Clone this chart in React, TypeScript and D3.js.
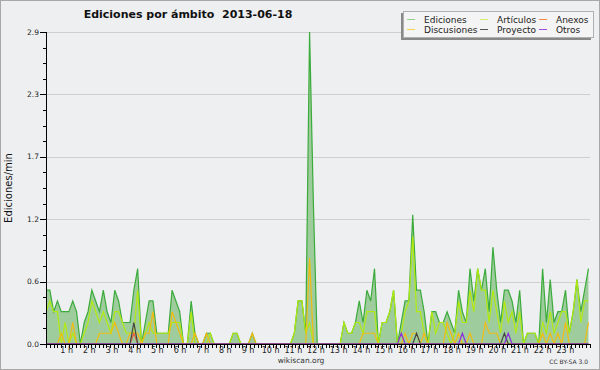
import React, { useEffect, useRef } from 'react';
import * as d3 from 'd3';

// edits per minute, one value per 10 minutes (00:00 .. 23:40)
const ediciones = [
  0.5, 0.5, 0.3, 0.4, 0.3, 0.3, 0.3, 0.4, 0.3, 0.0,
  0.2, 0.3, 0.5, 0.4, 0.3, 0.5, 0.3, 0.2, 0.5, 0.4,
  0.2, 0.2, 0.2, 0.5, 0.7, 0.0, 0.2, 0.4, 0.4, 0.1,
  0.1, 0.1, 0.1, 0.5, 0.4, 0.3, 0.0, 0.0, 0.4, 0.1,
  0.0, 0.0, 0.1, 0.1, 0.0, 0.0, 0.0, 0.0, 0.0, 0.1,
  0.1, 0.0, 0.0, 0.0, 0.1, 0.0, 0.0, 0.0, 0.0, 0.0,
  0.0, 0.0, 0.0, 0.0, 0.0, 0.1, 0.4, 0.4, 0.1, 2.9,
  1.3, 0.0, 0.0, 0.0, 0.0, 0.0, 0.0, 0.0, 0.2, 0.1,
  0.1, 0.2, 0.4, 0.2, 0.5, 0.4, 0.7, 0.0, 0.2, 0.2,
  0.3, 0.5, 0.0, 0.2, 0.4, 0.4, 1.2, 0.5, 0.5, 0.3,
  0.0, 0.3, 0.3, 0.2, 0.2, 0.3, 0.2, 0.1, 0.5, 0.3,
  0.2, 0.7, 0.4, 0.7, 0.5, 0.7, 0.3, 0.9, 0.5, 0.2,
  0.5, 0.5, 0.4, 0.2, 0.5, 0.0, 0.1, 0.1, 0.1, 0.0,
  0.7, 0.2, 0.6, 0.2, 0.3, 0.3, 0.5, 0.1, 0.3, 0.6,
  0.3, 0.5, 0.7,
];

const articulos = [
  0.3, 0.4, 0.3, 0.3, 0.0, 0.2, 0.0, 0.1, 0.0, 0.0,
  0.1, 0.2, 0.4, 0.3, 0.2, 0.3, 0.2, 0.1, 0.3, 0.3,
  0.2, 0.1, 0.1, 0.1, 0.5, 0.0, 0.1, 0.2, 0.1, 0.1,
  0.1, 0.1, 0.1, 0.2, 0.2, 0.2, 0.0, 0.0, 0.3, 0.0,
  0.0, 0.0, 0.0, 0.1, 0.0, 0.0, 0.0, 0.0, 0.0, 0.1,
  0.1, 0.0, 0.0, 0.0, 0.0, 0.0, 0.0, 0.0, 0.0, 0.0,
  0.0, 0.0, 0.0, 0.0, 0.0, 0.1, 0.4, 0.4, 0.1, 0.2,
  0.0, 0.0, 0.0, 0.0, 0.0, 0.0, 0.0, 0.0, 0.2, 0.1,
  0.1, 0.2, 0.2, 0.1, 0.3, 0.3, 0.3, 0.0, 0.2, 0.2,
  0.3, 0.5, 0.0, 0.1, 0.3, 0.4, 1.0, 0.3, 0.3, 0.1,
  0.0, 0.3, 0.1, 0.2, 0.2, 0.1, 0.0, 0.1, 0.4, 0.2,
  0.2, 0.5, 0.3, 0.7, 0.5, 0.5, 0.2, 0.5, 0.3, 0.1,
  0.4, 0.2, 0.3, 0.1, 0.3, 0.0, 0.1, 0.1, 0.1, 0.0,
  0.2, 0.1, 0.3, 0.1, 0.2, 0.3, 0.3, 0.1, 0.3, 0.6,
  0.2, 0.4, 0.4,
];

const discusiones = [
  0.0, 0.0, 0.0, 0.0, 0.1, 0.0, 0.0, 0.2, 0.0, 0.0,
  0.0, 0.0, 0.0, 0.0, 0.1, 0.1, 0.1, 0.1, 0.2, 0.1,
  0.0, 0.0, 0.1, 0.1, 0.1, 0.0, 0.1, 0.1, 0.3, 0.0,
  0.0, 0.0, 0.0, 0.3, 0.2, 0.1, 0.0, 0.0, 0.0, 0.1,
  0.0, 0.0, 0.1, 0.0, 0.0, 0.0, 0.0, 0.0, 0.0, 0.0,
  0.0, 0.0, 0.0, 0.0, 0.1, 0.0, 0.0, 0.0, 0.0, 0.0,
  0.0, 0.0, 0.0, 0.0, 0.0, 0.0, 0.0, 0.0, 0.0, 0.8,
  0.0, 0.0, 0.0, 0.0, 0.0, 0.0, 0.0, 0.0, 0.0, 0.0,
  0.0, 0.0, 0.0, 0.1, 0.1, 0.1, 0.1, 0.0, 0.0, 0.0,
  0.0, 0.0, 0.0, 0.0, 0.1, 0.0, 0.1, 0.1, 0.0, 0.1,
  0.0, 0.0, 0.0, 0.0, 0.0, 0.2, 0.1, 0.0, 0.1, 0.0,
  0.0, 0.1, 0.0, 0.0, 0.0, 0.2, 0.1, 0.1, 0.1, 0.0,
  0.0, 0.0, 0.0, 0.0, 0.0, 0.0, 0.0, 0.0, 0.0, 0.0,
  0.1, 0.0, 0.1, 0.0, 0.1, 0.0, 0.2, 0.0, 0.0, 0.0,
  0.0, 0.0, 0.2,
];

const anexos = [
  0, 0, 0, 0, 0, 0, 0, 0, 0, 0,
  0, 0, 0, 0, 0, 0, 0, 0, 0, 0,
  0, 0, 0, 0.1, 0, 0, 0, 0, 0, 0,
  0, 0, 0, 0, 0, 0, 0, 0, 0, 0,
  0, 0, 0, 0, 0, 0, 0, 0, 0, 0,
  0, 0, 0, 0, 0, 0, 0, 0, 0, 0,
  0, 0, 0, 0, 0, 0, 0, 0, 0, 0,
  0, 0, 0, 0, 0, 0, 0, 0, 0, 0,
  0, 0, 0, 0, 0, 0, 0, 0, 0, 0,
  0, 0, 0, 0, 0, 0, 0, 0, 0, 0,
  0, 0, 0, 0, 0, 0, 0, 0, 0, 0,
  0, 0, 0, 0, 0, 0, 0, 0, 0, 0,
  0, 0, 0, 0, 0, 0, 0, 0, 0, 0,
  0, 0, 0, 0, 0, 0, 0, 0, 0, 0,
  0, 0, 0,
];

const proyecto = [
  0, 0, 0, 0, 0, 0, 0, 0, 0, 0,
  0, 0, 0, 0, 0, 0, 0, 0, 0, 0,
  0, 0, 0, 0.2, 0, 0, 0, 0, 0, 0,
  0, 0, 0, 0, 0, 0, 0, 0, 0, 0,
  0, 0, 0, 0, 0, 0, 0, 0, 0, 0,
  0, 0, 0, 0, 0, 0, 0, 0, 0, 0,
  0, 0, 0, 0, 0, 0, 0, 0, 0, 0,
  0, 0, 0, 0, 0, 0, 0, 0, 0, 0,
  0, 0, 0, 0, 0, 0, 0, 0, 0, 0,
  0, 0, 0, 0, 0, 0, 0, 0.1, 0, 0,
  0, 0, 0, 0, 0, 0, 0, 0, 0, 0,
  0, 0, 0, 0, 0, 0, 0, 0, 0, 0,
  0.1, 0, 0, 0, 0, 0, 0, 0, 0, 0,
  0, 0, 0, 0, 0, 0, 0, 0, 0, 0,
  0, 0, 0,
];

const otros = [
  0, 0, 0, 0, 0, 0, 0, 0, 0, 0,
  0, 0, 0, 0, 0, 0, 0, 0, 0, 0,
  0, 0, 0, 0, 0, 0, 0, 0, 0, 0,
  0, 0, 0, 0, 0, 0, 0, 0, 0, 0,
  0, 0, 0, 0, 0, 0, 0, 0, 0, 0,
  0, 0, 0, 0, 0, 0, 0, 0, 0, 0,
  0, 0, 0, 0, 0, 0, 0, 0, 0, 0,
  0, 0, 0, 0, 0, 0, 0, 0, 0, 0,
  0, 0, 0, 0, 0, 0, 0, 0, 0, 0,
  0, 0, 0, 0.1, 0, 0, 0, 0, 0, 0,
  0, 0, 0, 0, 0, 0, 0, 0, 0, 0.1,
  0, 0, 0, 0, 0, 0, 0, 0, 0, 0,
  0, 0.1, 0, 0, 0, 0, 0, 0, 0, 0,
  0, 0, 0, 0, 0, 0, 0, 0, 0, 0,
  0, 0, 0,
];

const yTicks = [0, 0.58, 1.16, 1.74, 2.32, 2.9];
const hours = d3.range(1, 24);

const legendItems = [
  { name: 'Ediciones', color: '#8fd08f', col: 0, row: 0 },
  { name: 'Artículos', color: '#d4f06a', col: 1, row: 0 },
  { name: 'Anexos', color: '#f08a50', col: 2, row: 0 },
  { name: 'Discusiones', color: '#f5d24a', col: 0, row: 1 },
  { name: 'Proyecto', color: '#555555', col: 1, row: 1 },
  { name: 'Otros', color: '#9a50e0', col: 2, row: 1 },
];

const App: React.FC = () => {
  const svgRef = useRef<SVGSVGElement>(null);

  useEffect(() => {
    if (!svgRef.current) return;
    const svg = d3.select(svgRef.current);
    svg.selectAll('*').remove();

    const left = 46, right = 590, top = 32, bottom = 344;
    const font = 'DejaVu Sans, sans-serif';

    const x = d3.scaleLinear().domain([0, 142]).range([left, left + 142 * 3.82]);
    const xh = d3.scaleLinear().domain([0, 24]).range([left, right]);
    const y = d3.scaleLinear().domain([0, 2.9]).range([bottom, top]);

    // background + frame
    svg.append('rect').attr('width', 600).attr('height', 370).attr('fill', '#eeeff1');
    svg.append('rect')
      .attr('x', 0.5).attr('y', 0.5).attr('width', 599).attr('height', 369)
      .attr('fill', 'none').attr('stroke', '#a8a8a8');

    svg.append('defs').append('clipPath').attr('id', 'plot-clip')
      .append('rect').attr('x', left).attr('y', 0).attr('width', right - left).attr('height', bottom + 1);

    // grid
    svg.append('g').selectAll('line')
      .data(yTicks.slice(1))
      .enter().append('line')
      .attr('x1', left).attr('x2', right)
      .attr('y1', d => Math.round(y(d)) + 0.5).attr('y2', d => Math.round(y(d)) + 0.5)
      .attr('stroke', '#cfcfcf');

    const plot = svg.append('g').attr('clip-path', 'url(#plot-clip)');

    const area = d3.area<number>()
      .x((d, i) => x(i))
      .y0(bottom)
      .y1(d => y(d));
    const line = d3.line<number>()
      .x((d, i) => x(i))
      .y(d => y(d));

    plot.append('path').datum(ediciones)
      .attr('d', area)
      .attr('fill', '#9fcc9c');

    const lines = [
      { values: ediciones, color: '#3bab3b' },
      { values: articulos, color: '#b2ea10' },
      { values: discusiones, color: '#f2bb10' },
      { values: anexos, color: '#e8603c' },
      { values: proyecto, color: '#444444' },
      { values: otros, color: '#8a2be2' },
    ];
    lines.forEach(s => {
      plot.append('path').datum(s.values)
        .attr('d', line)
        .attr('fill', 'none')
        .attr('stroke', s.color)
        .attr('stroke-width', 1.2)
        .attr('stroke-linejoin', 'miter');
    });

    // y axis
    const ya = svg.append('g');
    ya.append('line').attr('x1', left + 0.5).attr('x2', left + 0.5).attr('y1', top).attr('y2', bottom)
      .attr('stroke', '#000');
    const minor = d3.range(0, 2.9 + 0.001, 0.145);
    ya.selectAll('.minor').data(minor).enter().append('line')
      .attr('x1', left - 3).attr('x2', left)
      .attr('y1', d => Math.round(y(d)) + 0.5).attr('y2', d => Math.round(y(d)) + 0.5)
      .attr('stroke', '#000');
    ya.selectAll('.major').data(yTicks).enter().append('line')
      .attr('x1', left - 6).attr('x2', left)
      .attr('y1', d => Math.round(y(d)) + 0.5).attr('y2', d => Math.round(y(d)) + 0.5)
      .attr('stroke', '#000');
    ya.selectAll('text').data(yTicks).enter().append('text')
      .attr('x', left - 7).attr('y', d => y(d)).attr('dy', '0.35em')
      .attr('text-anchor', 'end')
      .style('font-family', font).style('font-size', '7.5px').style('fill', '#222')
      .text(d => d.toFixed(1));

    // x axis
    const xa = svg.append('g');
    xa.append('line').attr('x1', left).attr('x2', right).attr('y1', bottom + 0.5).attr('y2', bottom + 0.5)
      .attr('stroke', '#000');
    xa.selectAll('.tick').data(d3.range(0, 145)).enter().append('line')
      .attr('x1', d => Math.round(xh(d / 6)) + 0.5).attr('x2', d => Math.round(xh(d / 6)) + 0.5)
      .attr('y1', bottom).attr('y2', bottom + 4)
      .attr('stroke', '#000');
    xa.selectAll('text').data(hours).enter().append('text')
      .attr('x', d => xh(d) - 2).attr('y', bottom + 9)
      .attr('text-anchor', 'middle')
      .style('font-family', font).style('font-size', '8px').style('fill', '#222')
      .text(d => `${d} h`);

    // y label
    svg.append('text')
      .attr('transform', `translate(12, ${(top + bottom) / 2}) rotate(-90)`)
      .attr('text-anchor', 'middle')
      .style('font-family', font).style('font-size', '10px').style('fill', '#111')
      .text('Ediciones/min');

    // title (keeps the double space before the date)
    svg.append('text')
      .attr('x', 188).attr('y', 18)
      .attr('text-anchor', 'middle')
      .style('white-space', 'pre')
      .style('font-family', font).style('font-size', '11px').style('font-weight', 'bold')
      .style('fill', '#111')
      .text('Ediciones por ámbito  2013-06-18');

    // footer
    svg.append('text')
      .attr('x', 301).attr('y', 363)
      .attr('text-anchor', 'middle')
      .style('font-family', font).style('font-size', '7.5px').style('fill', '#333')
      .text('wikiscan.org');
    svg.append('text')
      .attr('x', 588).attr('y', 364)
      .attr('text-anchor', 'end')
      .style('font-family', font).style('font-size', '6px').style('fill', '#333')
      .text('CC BY-SA 3.0');

    // legend
    const lg = svg.append('g');
    lg.append('rect').attr('x', 401).attr('y', 13).attr('width', 190).attr('height', 27).attr('fill', '#888');
    lg.append('rect').attr('x', 403.5).attr('y', 11.5).attr('width', 190).attr('height', 26)
      .attr('fill', '#f4f4f4').attr('stroke', '#b0b0b0');
    const colX = [407, 480, 539];
    const rowY = [19.5, 29.5];
    legendItems.forEach(it => {
      const lx = colX[it.col];
      const ly = rowY[it.row];
      lg.append('line').attr('x1', lx).attr('x2', lx + 8).attr('y1', ly).attr('y2', ly)
        .attr('stroke', it.color).attr('stroke-width', 1);
      lg.append('text').attr('x', lx + 17).attr('y', ly).attr('dy', '0.35em')
        .style('font-family', font).style('font-size', '9px').style('fill', '#222')
        .text(it.name);
    });
  }, []);

  return (
    <svg ref={svgRef} width={600} height={370}
      style={{ position: 'absolute', left: 0, top: 0, display: 'block' }} />
  );
};

export default App;
